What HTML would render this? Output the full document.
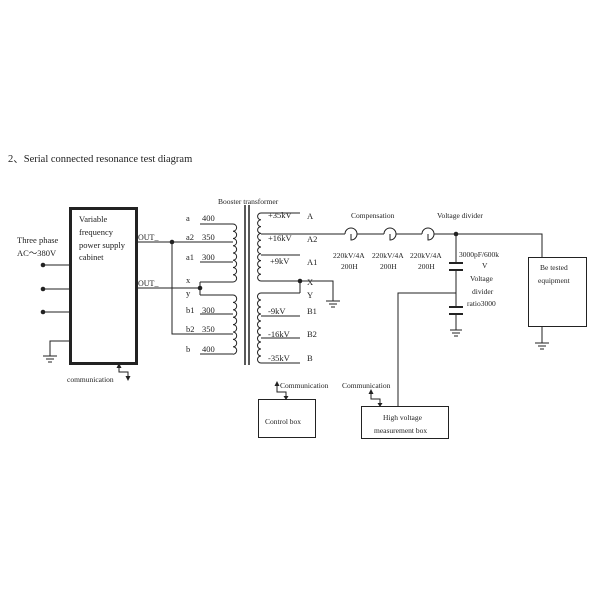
<!DOCTYPE html>
<html><head><style>body{margin:0;background:#fff}svg{display:block}text{font-family:"Liberation Serif",serif;fill:#222}</style></head><body>
<svg width="600" height="600" viewBox="0 0 600 600" xmlns="http://www.w3.org/2000/svg" font-size="8.5">
<rect width="600" height="600" fill="#fff"/>
<text x="8" y="162" font-size="10.5">2、Serial connected resonance test diagram</text>
<g stroke="#222" fill="none" stroke-width="1">
<!-- cabinet -->
<rect x="70.5" y="208.5" width="66" height="155" stroke-width="3"/>
<line x1="43" y1="265" x2="70" y2="265"/><line x1="43" y1="289" x2="70" y2="289"/><line x1="43" y1="312" x2="70" y2="312"/>
<polyline points="70,341 50,341 50,356"/>
<line x1="43" y1="356" x2="57" y2="356"/><line x1="46" y1="359" x2="54" y2="359"/><line x1="48" y1="362" x2="52" y2="362"/>
<!-- outputs -->
<line x1="137" y1="242" x2="233" y2="242"/>
<polyline points="172,242 172,334 233,334"/>
<line x1="137" y1="288" x2="200" y2="288"/>
<polyline points="200,282 200,295"/>
<line x1="200" y1="282" x2="233" y2="282"/><line x1="200" y1="295" x2="233" y2="295"/>
<line x1="200" y1="224" x2="233" y2="224"/><line x1="200" y1="262" x2="233" y2="262"/>
<line x1="200" y1="314" x2="233" y2="314"/><line x1="200" y1="354" x2="233" y2="354"/>
<!-- primary coils -->
<path d="M233,224 a3.6,3.6 0 0 1 0,7.25 a3.6,3.6 0 0 1 0,7.25 a3.6,3.6 0 0 1 0,7.25 a3.6,3.6 0 0 1 0,7.25 a3.6,3.6 0 0 1 0,7.25 a3.6,3.6 0 0 1 0,7.25 a3.6,3.6 0 0 1 0,7.25 a3.6,3.6 0 0 1 0,7.25"/>
<path d="M233,295 a3.7,3.7 0 0 1 0,7.4 a3.7,3.7 0 0 1 0,7.4 a3.7,3.7 0 0 1 0,7.4 a3.7,3.7 0 0 1 0,7.4 a3.7,3.7 0 0 1 0,7.4 a3.7,3.7 0 0 1 0,7.4 a3.7,3.7 0 0 1 0,7.4 a3.7,3.7 0 0 1 0,7.4"/>
<!-- core -->
<line x1="245" y1="205" x2="245" y2="365" stroke-width="1.5"/><line x1="249" y1="205" x2="249" y2="365" stroke-width="1.5"/>
<!-- secondary coils -->
<path d="M261,213 a3.4,3.4 0 0 0 0,6.8 a3.4,3.4 0 0 0 0,6.8 a3.4,3.4 0 0 0 0,6.8 a3.4,3.4 0 0 0 0,6.8 a3.4,3.4 0 0 0 0,6.8 a3.4,3.4 0 0 0 0,6.8 a3.4,3.4 0 0 0 0,6.8 a3.4,3.4 0 0 0 0,6.8 a3.4,3.4 0 0 0 0,6.8 a3.4,3.4 0 0 0 0,6.8"/>
<path d="M261,293 a3.5,3.5 0 0 0 0,7 a3.5,3.5 0 0 0 0,7 a3.5,3.5 0 0 0 0,7 a3.5,3.5 0 0 0 0,7 a3.5,3.5 0 0 0 0,7 a3.5,3.5 0 0 0 0,7 a3.5,3.5 0 0 0 0,7 a3.5,3.5 0 0 0 0,7 a3.5,3.5 0 0 0 0,7 a3.5,3.5 0 0 0 0,7"/>
<line x1="261" y1="213" x2="300" y2="213"/><line x1="261" y1="255" x2="300" y2="255"/>
<line x1="261" y1="281" x2="300" y2="281"/><line x1="261" y1="293" x2="300" y2="293"/>
<line x1="300" y1="281" x2="300" y2="293"/>
<line x1="261" y1="316" x2="300" y2="316"/><line x1="261" y1="338" x2="300" y2="338"/><line x1="261" y1="363" x2="300" y2="363"/>
<polyline points="300,281 333,281 333,301"/>
<line x1="326" y1="301" x2="340" y2="301"/><line x1="329" y1="304" x2="337" y2="304"/><line x1="331" y1="307" x2="335" y2="307"/>
<!-- main HV line -->
<line x1="261" y1="234" x2="345" y2="234"/>
<path d="M345,234 a6,6 0 0 1 12,0 a6,6 0 0 1 -6,6 v-6"/>
<line x1="357" y1="234" x2="384" y2="234"/>
<path d="M384,234 a6,6 0 0 1 12,0 a6,6 0 0 1 -6,6 v-6"/>
<line x1="396" y1="234" x2="422" y2="234"/>
<path d="M422,234 a6,6 0 0 1 12,0 a6,6 0 0 1 -6,6 v-6"/>
<polyline points="434,234 542,234 542,257"/>
<!-- divider -->
<line x1="456" y1="234" x2="456" y2="263"/>
<line x1="449" y1="263" x2="463" y2="263" stroke-width="2"/><line x1="449" y1="270" x2="463" y2="270" stroke-width="2"/>
<line x1="456" y1="270" x2="456" y2="307"/>
<line x1="449" y1="307" x2="463" y2="307" stroke-width="2"/><line x1="449" y1="314" x2="463" y2="314" stroke-width="2"/>
<line x1="456" y1="314" x2="456" y2="330"/>
<line x1="450" y1="330" x2="462" y2="330"/><line x1="452" y1="333" x2="460" y2="333"/><line x1="454" y1="336" x2="458" y2="336"/>
<polyline points="456,293 398,293 398,406"/>
<!-- tested -->
<rect x="528.5" y="257.5" width="58" height="69"/>
<line x1="542" y1="327" x2="542" y2="343"/>
<line x1="535" y1="343" x2="549" y2="343"/><line x1="538" y1="346" x2="546" y2="346"/><line x1="540" y1="349" x2="544" y2="349"/>
<!-- boxes -->
<rect x="258.5" y="399.5" width="57" height="38"/>
<rect x="361.5" y="406.5" width="87" height="32"/>
<!-- comm arrows -->
<polyline points="277,385 277,392 286,392 286,398"/>
<polyline points="371,393 371,399 380,399 380,406"/>
<polyline points="119,366 119,372 128,372 128,378"/>
</g>
<g fill="#222">
<circle cx="43" cy="265" r="2.3"/><circle cx="43" cy="289" r="2.3"/><circle cx="43" cy="312" r="2.3"/>
<circle cx="172" cy="242" r="2.3"/><circle cx="200" cy="288" r="2.3"/><circle cx="300" cy="281" r="2.3"/><circle cx="456" cy="234" r="2.3"/>
<path d="M274.5,386 L277,381 L279.5,386Z"/><path d="M283.5,396 L286,400 L288.5,396Z"/>
<path d="M368.5,394 L371,389 L373.5,394Z"/><path d="M377.5,403 L380,407 L382.5,403Z"/>
<path d="M116.5,368 L119,363 L121.5,368Z"/><path d="M125.5,376 L128,381 L130.5,376Z"/>
</g>
<text x="79" y="222">Variable</text><text x="79" y="235">frequency</text>
<text x="79" y="248">power  supply</text><text x="79" y="260">cabinet</text>
<text x="17" y="243">Three phase</text><text x="17" y="256">AC～380V</text>
<text x="138" y="240" font-size="8">OUT_</text><text x="138" y="286" font-size="8">OUT_</text>
<text x="67" y="382" font-size="7.5">communication</text>
<text x="186" y="221">a</text><text x="202" y="221">400</text>
<text x="186" y="240">a2</text><text x="202" y="240">350</text>
<text x="186" y="260">a1</text><text x="202" y="260">300</text>
<text x="186" y="283">x</text><text x="186" y="296">y</text>
<text x="186" y="313">b1</text><text x="202" y="313">300</text>
<text x="186" y="332">b2</text><text x="202" y="332">350</text>
<text x="186" y="352">b</text><text x="202" y="352">400</text>
<text x="218" y="204" font-size="7.5">Booster transformer</text>
<text x="268" y="218">+35kV</text><text x="307" y="219">A</text>
<text x="268" y="241">+16kV</text><text x="307" y="242">A2</text>
<text x="270" y="264">+9kV</text><text x="307" y="265">A1</text>
<text x="307" y="285">X</text><text x="307" y="298">Y</text>
<text x="268" y="314">-9kV</text><text x="307" y="314">B1</text>
<text x="268" y="337">-16kV</text><text x="307" y="337">B2</text>
<text x="268" y="361">-35kV</text><text x="307" y="361">B</text>
<text x="351" y="218" font-size="7.5">Compensation</text>
<text x="437" y="218" font-size="7.5">Voltage divider</text>
<text x="333" y="258" font-size="7.5">220kV/4A</text><text x="341" y="269" font-size="7.5">200H</text>
<text x="372" y="258" font-size="7.5">220kV/4A</text><text x="380" y="269" font-size="7.5">200H</text>
<text x="410" y="258" font-size="7.5">220kV/4A</text><text x="418" y="269" font-size="7.5">200H</text>
<text x="459" y="257" font-size="7.5">3000pF/600k</text><text x="482" y="268" font-size="7.5">V</text>
<text x="470" y="281" font-size="7.5">Voltage</text><text x="472" y="294" font-size="7.5">divider</text><text x="467" y="306" font-size="7.5">ratio3000</text>
<text x="540" y="270" font-size="7.5">Be tested</text><text x="538" y="283" font-size="7.5">equipment</text>
<text x="280" y="388" font-size="7.5">Communication</text>
<text x="342" y="388" font-size="7.5">Communication</text>
<text x="265" y="424" font-size="7.5">Control box</text>
<text x="383" y="420" font-size="7.5">High voltage</text><text x="374" y="433" font-size="7.5">measurement box</text>
</svg>
</body></html>
